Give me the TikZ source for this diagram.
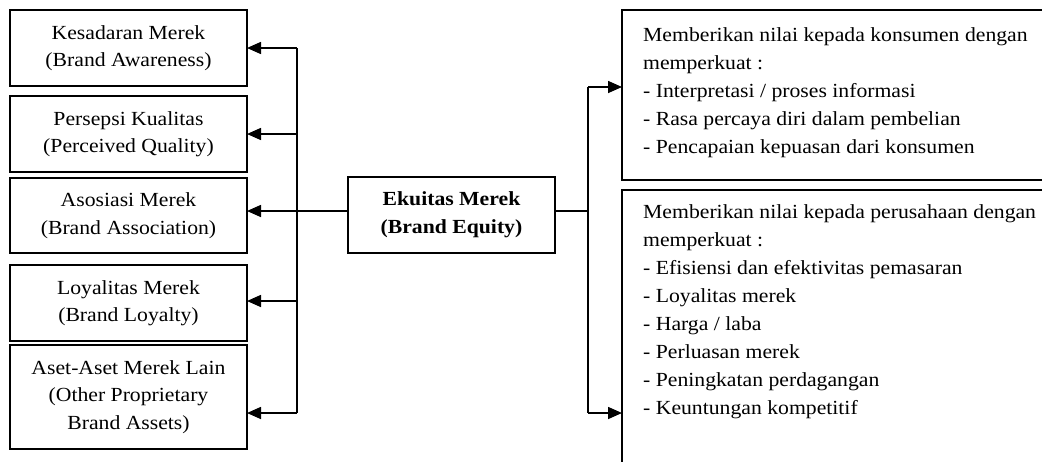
\documentclass[tikz,border=0pt]{standalone}
\usepackage{fontspec}
\setmainfont[FakeStretch=1.085]{Liberation Serif}
\usetikzlibrary{arrows.meta}
\begin{document}
\begin{tikzpicture}[x=1pt,y=-1pt,
  txt/.style={font=\fontsize{20}{27.5}\selectfont},
  box/.style={draw, line width=1.6pt, inner sep=0pt, outer sep=0pt,
    align=center, minimum width=237pt, txt},
  panel/.style={draw, line width=1.6pt, inner sep=0pt, outer sep=0pt,
    anchor=north west, minimum width=500pt},
  list/.style={anchor=base west, align=left, inner sep=0pt,
    font=\fontsize{20}{28}\selectfont},
  link/.style={line width=1.6pt},
  arr/.style={line width=1.6pt, -{Triangle[length=14pt,width=12pt]}}]
\useasboundingbox (0,0) rectangle (1042,461);
\clip (0,0) rectangle (1042,461);

% dimensions of brand equity
\node[box, minimum height=76pt]  (ka) at (128.5,48)    {Kesadaran Merek\\(Brand Awareness)};
\node[box, minimum height=76pt]  (pk) at (128.5,134)   {Persepsi Kualitas\\(Perceived Quality)};
\node[box, minimum height=75pt]  (am) at (128.5,215.5) {Asosiasi Merek\\(Brand Association)};
\node[box, minimum height=76pt]  (lm) at (128.5,303)   {Loyalitas Merek\\(Brand Loyalty)};
\node[box, minimum height=104pt] (aa) at (128.5,397)   {Aset-Aset Merek Lain\\(Other Proprietary\\Brand Assets)};

% central concept
\node[box, minimum width=207pt, minimum height=76pt, font=\fontsize{20}{28}\selectfont\bfseries]
  (em) at (451.5,215) {Ekuitas Merek\\(Brand Equity)};

% value panels (the base anchor sits on the last line of each list)
\node[panel, minimum height=170pt] (kon) at (622,10) {};
\node[panel, minimum height=320pt] (per) at (622,190) {};
\node[list] (kont) at (643,153) {Memberikan nilai kepada konsumen dengan\\memperkuat :\\- Interpretasi / proses informasi\\- Rasa percaya diri dalam pembelian\\- Pencapaian kepuasan dari konsumen};
\node[list] (pert) at (643,414) {Memberikan nilai kepada perusahaan dengan\\memperkuat :\\- Efisiensi dan efektivitas pemasaran\\- Loyalitas merek\\- Harga / laba\\- Perluasan merek\\- Peningkatan perdagangan\\- Keuntungan kompetitif};

% left distribution bus
\coordinate (l1) at (297,48);
\coordinate (l2) at (297,134);
\coordinate (l4) at (297,301);
\coordinate (l5) at (297,413);
\draw[link] (l1) -- (l5);
\draw[arr] (l1) -- (ka.east);
\draw[arr] (l2) -- (pk.east);
\draw[arr] ([yshift=4pt]em.west) -- (am.east |- 0,211);
\draw[arr] (l4) -- (lm.east |- l4);
\draw[arr] (l5) -- (aa.east |- l5);

% right distribution bus
\coordinate (r0) at (588,211);
\coordinate (r1) at (588,87);
\coordinate (r2) at (588,413);
\draw[link] ([yshift=4pt]em.east) -- (r0);
\draw[link] (r1) -- (r2);
\draw[arr] (r1) -- (kon.west |- r1);
\draw[arr] (r2) -- (per.west |- r2);
\end{tikzpicture}
\end{document}
